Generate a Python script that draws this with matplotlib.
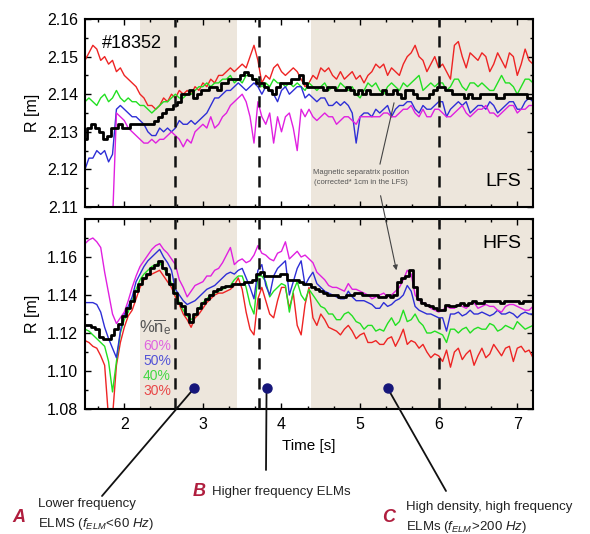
import numpy as np
import matplotlib
matplotlib.use("Agg")
import matplotlib.pyplot as plt
from matplotlib.ticker import MultipleLocator, FormatStrFormatter, AutoMinorLocator
from matplotlib.lines import Line2D
from matplotlib.patches import FancyArrowPatch

plt.rcParams['font.family'] = ['Liberation Sans', 'DejaVu Sans']
plt.rcParams['mathtext.fontset'] = 'custom'
plt.rcParams['mathtext.rm'] = 'Liberation Sans'
plt.rcParams['mathtext.it'] = 'Liberation Sans:italic'
plt.rcParams['mathtext.bf'] = 'Liberation Sans:bold'

# ---------------- data ----------------
time = np.round(np.arange(1.50, 7.2001, 0.05), 2)

# LFS (top panel), R [m]
lfs_30 = [2.149, 2.151, 2.153, 2.152, 2.149, 2.150, 2.148, 2.149, 2.146, 2.147,
          2.145, 2.144, 2.143, 2.142, 2.140, 2.139, 2.137, 2.137, 2.136, 2.137,
          2.139, 2.138, 2.140, 2.139, 2.141, 2.140, 2.141, 2.140, 2.142, 2.141,
          2.143, 2.142, 2.144, 2.143, 2.145, 2.145, 2.146, 2.147, 2.146, 2.147,
          2.148, 2.147, 2.150, 2.153, 2.149, 2.143, 2.145, 2.144, 2.147, 2.148,
          2.146, 2.145, 2.146, 2.147, 2.146, 2.144, 2.142, 2.143, 2.145, 2.144,
          2.147, 2.146, 2.147, 2.145, 2.144, 2.146, 2.144, 2.145, 2.146, 2.144,
          2.145, 2.143, 2.145, 2.146, 2.148, 2.147, 2.148, 2.145, 2.147, 2.146,
          2.145, 2.148, 2.150, 2.151, 2.153, 2.150, 2.149, 2.146, 2.148, 2.150,
          2.147, 2.148, 2.146, 2.144, 2.153, 2.154, 2.150, 2.147, 2.151, 2.150,
          2.149, 2.151, 2.150, 2.146, 2.148, 2.151, 2.149, 2.147, 2.151, 2.150,
          2.145, 2.148, 2.152, 2.149, 2.148]
lfs_40 = [2.138, 2.139, 2.138, 2.137, 2.139, 2.140, 2.138, 2.139, 2.141, 2.139,
          2.138, 2.139, 2.138, 2.138, 2.137, 2.137, 2.136, 2.135, 2.136, 2.137,
          2.138, 2.138, 2.139, 2.140, 2.139, 2.139, 2.140, 2.140, 2.141, 2.142,
          2.142, 2.143, 2.142, 2.143, 2.143, 2.144, 2.144, 2.145, 2.143, 2.144,
          2.143, 2.145, 2.145, 2.144, 2.144, 2.142, 2.143, 2.142, 2.144, 2.143,
          2.143, 2.142, 2.143, 2.142, 2.143, 2.142, 2.141, 2.143, 2.142, 2.141,
          2.142, 2.143, 2.141, 2.142, 2.141, 2.143, 2.142, 2.141, 2.142, 2.140,
          2.139, 2.141, 2.143, 2.142, 2.143, 2.141, 2.140, 2.142, 2.143, 2.142,
          2.141, 2.143, 2.142, 2.143, 2.144, 2.145, 2.141, 2.142, 2.143, 2.142,
          2.143, 2.143, 2.141, 2.142, 2.144, 2.144, 2.142, 2.141, 2.143, 2.143,
          2.142, 2.143, 2.142, 2.141, 2.141, 2.143, 2.145, 2.143, 2.143, 2.142,
          2.140, 2.142, 2.144, 2.144, 2.143]
lfs_50 = [2.120, 2.123, 2.123, 2.125, 2.124, 2.125, 2.122, 2.124, 2.136, 2.137,
          2.136, 2.135, 2.134, 2.134, 2.133, 2.132, 2.130, 2.129, 2.129, 2.131,
          2.130, 2.131, 2.130, 2.131, 2.133, 2.132, 2.132, 2.133, 2.132, 2.133,
          2.134, 2.135, 2.137, 2.139, 2.139, 2.140, 2.141, 2.141, 2.142, 2.143,
          2.142, 2.141, 2.142, 2.143, 2.142, 2.140, 2.142, 2.141, 2.140, 2.138,
          2.141, 2.142, 2.140, 2.141, 2.142, 2.142, 2.139, 2.140, 2.139, 2.138,
          2.139, 2.139, 2.137, 2.137, 2.138, 2.137, 2.138, 2.137, 2.135, 2.127,
          2.134, 2.135, 2.135, 2.134, 2.136, 2.135, 2.136, 2.137, 2.134, 2.136,
          2.137, 2.137, 2.138, 2.138, 2.136, 2.135, 2.137, 2.136, 2.136, 2.137,
          2.138, 2.138, 2.134, 2.136, 2.137, 2.138, 2.137, 2.138, 2.135, 2.136,
          2.137, 2.137, 2.136, 2.138, 2.137, 2.135, 2.136, 2.137, 2.138, 2.138,
          2.136, 2.136, 2.138, 2.139, 2.138]
lfs_60 = [2.100, 2.100, 2.100, 2.100, 2.100, 2.100, 2.100, 2.106, 2.135, 2.134,
          2.133, 2.131, 2.130, 2.129, 2.128, 2.127, 2.127, 2.128, 2.127, 2.128,
          2.128, 2.129, 2.130, 2.129, 2.128, 2.126, 2.128, 2.127, 2.130, 2.131,
          2.132, 2.131, 2.134, 2.131, 2.132, 2.134, 2.135, 2.137, 2.138, 2.139,
          2.140, 2.138, 2.134, 2.127, 2.138, 2.134, 2.132, 2.135, 2.127, 2.134,
          2.130, 2.134, 2.135, 2.131, 2.125, 2.136, 2.134, 2.136, 2.134, 2.133,
          2.134, 2.135, 2.134, 2.134, 2.132, 2.133, 2.134, 2.134, 2.133, 2.132,
          2.134, 2.134, 2.134, 2.134, 2.134, 2.134, 2.135, 2.135, 2.134, 2.134,
          2.135, 2.136, 2.136, 2.137, 2.135, 2.134, 2.136, 2.134, 2.134, 2.136,
          2.136, 2.135, 2.134, 2.134, 2.135, 2.136, 2.137, 2.135, 2.134, 2.135,
          2.136, 2.136, 2.137, 2.135, 2.135, 2.134, 2.135, 2.136, 2.137, 2.137,
          2.135, 2.136, 2.136, 2.137, 2.137]
lfs_sep = [2.128, 2.131, 2.132, 2.131, 2.130, 2.128, 2.129, 2.131, 2.131, 2.132,
           2.131, 2.131, 2.132, 2.132, 2.132, 2.132, 2.132, 2.132, 2.133, 2.134,
           2.135, 2.136, 2.136, 2.137, 2.138, 2.140, 2.140, 2.141, 2.139, 2.140,
           2.141, 2.141, 2.142, 2.142, 2.141, 2.143, 2.143, 2.144, 2.144, 2.144,
           2.145, 2.146, 2.145, 2.144, 2.143, 2.143, 2.142, 2.141, 2.140, 2.142,
           2.143, 2.143, 2.143, 2.144, 2.144, 2.145, 2.143, 2.142, 2.142, 2.142,
           2.142, 2.141, 2.142, 2.142, 2.141, 2.141, 2.141, 2.142, 2.141, 2.140,
           2.141, 2.140, 2.141, 2.140, 2.140, 2.140, 2.141, 2.140, 2.140, 2.141,
           2.140, 2.139, 2.141, 2.141, 2.140, 2.139, 2.139, 2.139, 2.140, 2.141,
           2.142, 2.142, 2.141, 2.141, 2.140, 2.140, 2.140, 2.139, 2.140, 2.139,
           2.139, 2.140, 2.140, 2.140, 2.140, 2.139, 2.139, 2.140, 2.140, 2.140,
           2.140, 2.140, 2.140, 2.139, 2.139]

# HFS (bottom panel), R [m]
hfs_30 = [1.116, 1.115, 1.113, 1.112, 1.108, 1.103, 1.075, 1.076, 1.103, 1.115,
          1.123, 1.129, 1.132, 1.138, 1.144, 1.148, 1.150, 1.151, 1.152, 1.153,
          1.150, 1.147, 1.144, 1.139, 1.135, 1.130, 1.127, 1.123, 1.128, 1.130,
          1.133, 1.136, 1.138, 1.140, 1.141, 1.141, 1.142, 1.143, 1.145, 1.149,
          1.143, 1.131, 1.122, 1.119, 1.138, 1.144, 1.137, 1.130, 1.128, 1.137,
          1.144, 1.144, 1.133, 1.141, 1.124, 1.119, 1.135, 1.144, 1.128, 1.124,
          1.130, 1.127, 1.123, 1.122, 1.121, 1.119, 1.122, 1.124, 1.121, 1.117,
          1.119, 1.120, 1.115, 1.115, 1.116, 1.114, 1.114, 1.117, 1.118, 1.113,
          1.117, 1.122, 1.114, 1.116, 1.115, 1.112, 1.114, 1.110, 1.107, 1.109,
          1.108, 1.105, 1.111, 1.102, 1.110, 1.112, 1.106, 1.109, 1.111, 1.103,
          1.108, 1.112, 1.107, 1.109, 1.114, 1.111, 1.108, 1.112, 1.113, 1.105,
          1.112, 1.113, 1.110, 1.111, 1.107]
hfs_40 = [1.122, 1.121, 1.119, 1.117, 1.115, 1.113, 1.105, 1.089, 1.105, 1.120,
          1.127, 1.131, 1.137, 1.143, 1.148, 1.151, 1.153, 1.155, 1.156, 1.157,
          1.154, 1.151, 1.146, 1.141, 1.136, 1.132, 1.129, 1.127, 1.129, 1.133,
          1.136, 1.138, 1.140, 1.141, 1.142, 1.143, 1.144, 1.145, 1.148, 1.150,
          1.150, 1.144, 1.135, 1.130, 1.150, 1.150, 1.147, 1.139, 1.142, 1.144,
          1.146, 1.145, 1.131, 1.142, 1.147, 1.140, 1.137, 1.143, 1.140, 1.137,
          1.134, 1.133, 1.130, 1.130, 1.127, 1.127, 1.130, 1.131, 1.129, 1.126,
          1.125, 1.122, 1.124, 1.124, 1.121, 1.122, 1.121, 1.125, 1.128, 1.124,
          1.126, 1.132, 1.126, 1.127, 1.130, 1.126, 1.124, 1.120, 1.120, 1.121,
          1.120, 1.119, 1.115, 1.122, 1.122, 1.120, 1.122, 1.123, 1.120, 1.122,
          1.123, 1.122, 1.122, 1.125, 1.124, 1.121, 1.122, 1.124, 1.123, 1.122,
          1.126, 1.124, 1.122, 1.123, 1.124]
hfs_50 = [1.136, 1.136, 1.136, 1.135, 1.131, 1.123, 1.117, 1.112, 1.107, 1.121,
          1.130, 1.134, 1.139, 1.147, 1.151, 1.155, 1.158, 1.160, 1.162, 1.164,
          1.160, 1.157, 1.153, 1.143, 1.140, 1.137, 1.135, 1.136, 1.137, 1.139,
          1.141, 1.143, 1.144, 1.145, 1.147, 1.149, 1.151, 1.152, 1.151, 1.153,
          1.154, 1.149, 1.144, 1.138, 1.153, 1.156, 1.145, 1.140, 1.150, 1.154,
          1.156, 1.158, 1.140, 1.147, 1.154, 1.158, 1.145, 1.149, 1.152, 1.146,
          1.144, 1.142, 1.141, 1.140, 1.139, 1.138, 1.138, 1.142, 1.139, 1.137,
          1.137, 1.137, 1.136, 1.135, 1.133, 1.133, 1.136, 1.134, 1.135, 1.137,
          1.138, 1.140, 1.145, 1.142, 1.134, 1.132, 1.131, 1.130, 1.130, 1.129,
          1.128, 1.128, 1.121, 1.130, 1.130, 1.131, 1.129, 1.130, 1.132, 1.130,
          1.130, 1.131, 1.130, 1.129, 1.130, 1.132, 1.130, 1.130, 1.131, 1.130,
          1.128, 1.130, 1.131, 1.130, 1.130]
hfs_60 = [1.167, 1.169, 1.170, 1.168, 1.165, 1.152, 1.141, 1.130, 1.125, 1.128,
          1.131, 1.137, 1.144, 1.150, 1.155, 1.158, 1.161, 1.164, 1.166, 1.167,
          1.164, 1.162, 1.159, 1.156, 1.148, 1.144, 1.139, 1.142, 1.145, 1.146,
          1.147, 1.150, 1.150, 1.153, 1.154, 1.157, 1.161, 1.165, 1.156, 1.158,
          1.159, 1.157, 1.158, 1.161, 1.166, 1.162, 1.161, 1.159, 1.158, 1.162,
          1.163, 1.168, 1.159, 1.161, 1.163, 1.160, 1.161, 1.159, 1.157, 1.152,
          1.150, 1.148, 1.145, 1.144, 1.144, 1.143, 1.142, 1.146, 1.143, 1.143,
          1.142, 1.141, 1.140, 1.138, 1.139, 1.140, 1.141, 1.139, 1.140, 1.142,
          1.144, 1.148, 1.153, 1.151, 1.140, 1.137, 1.136, 1.135, 1.133, 1.132,
          1.131, 1.132, 1.134, 1.133, 1.133, 1.135, 1.134, 1.133, 1.135, 1.136,
          1.133, 1.134, 1.135, 1.134, 1.134, 1.132, 1.131, 1.134, 1.135, 1.135,
          1.134, 1.133, 1.132, 1.132, 1.134]
hfs_sep = [1.124, 1.124, 1.123, 1.122, 1.118, 1.117, 1.117, 1.119, 1.122, 1.125,
           1.129, 1.133, 1.137, 1.142, 1.146, 1.149, 1.151, 1.154, 1.156, 1.158,
           1.154, 1.151, 1.146, 1.141, 1.136, 1.134, 1.130, 1.126, 1.130, 1.133,
           1.136, 1.138, 1.140, 1.142, 1.143, 1.144, 1.145, 1.145, 1.146, 1.146,
           1.146, 1.147, 1.147, 1.148, 1.151, 1.152, 1.150, 1.150, 1.150, 1.150,
           1.151, 1.151, 1.148, 1.148, 1.148, 1.147, 1.146, 1.146, 1.144, 1.143,
           1.142, 1.141, 1.140, 1.140, 1.140, 1.139, 1.139, 1.140, 1.140, 1.141,
           1.141, 1.140, 1.140, 1.140, 1.140, 1.139, 1.139, 1.140, 1.139, 1.140,
           1.147, 1.149, 1.150, 1.153, 1.144, 1.138, 1.136, 1.135, 1.134, 1.133,
           1.132, 1.132, 1.135, 1.134, 1.134, 1.135, 1.136, 1.135, 1.136, 1.137,
           1.136, 1.136, 1.137, 1.137, 1.137, 1.137, 1.136, 1.137, 1.137, 1.137,
           1.137, 1.136, 1.137, 1.137, 1.137]

density_labels = ['60%', '50%', '40%', '30%']
shaded_spans = [(2.20, 3.43), (4.37, 7.20)]
elm_transitions = [2.65, 3.72, 6.00]
elm_points_t = [2.89, 3.81, 5.35]
elm_points_r = [1.091, 1.091, 1.091]

# ---------------- style ----------------
W, H = 590, 534
def fx(x):
    return x / W
def fy(y):
    return 1 - y / H

C_RED = '#EE2424'
C_GRN = '#22E022'
C_BLU = '#2E2ED6'
C_MAG = '#E020E0'
C_SHADE = '#EDE6DC'
C_LETTER = '#B01E3E'

fig = plt.figure(figsize=(W / 100, H / 100), dpi=100)
ax1 = fig.add_axes([fx(85), fy(207), (533 - 85) / W, (207 - 19) / H])
ax2 = fig.add_axes([fx(85), fy(409), (533 - 85) / W, (409 - 219) / H])

for ax, series in ((ax1, (lfs_30, lfs_40, lfs_50, lfs_60, lfs_sep)),
                   (ax2, (hfs_30, hfs_40, hfs_50, hfs_60, hfs_sep))):
    for a, b in shaded_spans:
        ax.axvspan(a, b, color=C_SHADE, lw=0, zorder=0)
    r30, r40, r50, r60, rsep = series
    ax.plot(time, r30, color=C_RED, lw=1.0, zorder=2)
    ax.plot(time, r40, color=C_GRN, lw=1.0, zorder=2)
    ax.plot(time, r50, color=C_BLU, lw=1.0, zorder=2)
    ax.plot(time, r60, color=C_MAG, lw=1.0, zorder=2)
    ax.plot(time, rsep, color='black', lw=2.0, drawstyle='steps-mid', zorder=3)
    for t in elm_transitions:
        ax.axvline(t, color='#111111', lw=1.8, ls=(0, (4.5, 3.5)), zorder=4)
    ax.set_xlim(1.5, 7.2)
    ax.xaxis.set_major_locator(MultipleLocator(1))
    ax.xaxis.set_minor_locator(AutoMinorLocator(3))
    ax.tick_params(which='both', direction='in', top=True, right=True, width=1.0,
                   labelsize=11.5)
    ax.tick_params(which='major', length=4)
    ax.tick_params(which='minor', length=2.5)
    ax.tick_params(axis='y', pad=5)
    ax.tick_params(axis='x', pad=6)
    for s in ax.spines.values():
        s.set_linewidth(1.5)
    ax.set_ylabel('R [m]', fontsize=11.5, labelpad=5)

ax1.set_ylim(2.11, 2.16)
ax1.yaxis.set_major_locator(MultipleLocator(0.01))
ax1.yaxis.set_minor_locator(MultipleLocator(0.005))
ax1.yaxis.set_major_formatter(FormatStrFormatter('%.2f'))
ax1.tick_params(labelbottom=False)

ax2.set_ylim(1.08, 1.18)
ax2.set_yticks([1.08, 1.10, 1.12, 1.14, 1.16])
ax2.yaxis.set_minor_locator(MultipleLocator(0.01))
ax2.yaxis.set_major_formatter(FormatStrFormatter('%.2f'))
ax2.set_xlabel('Time [s]', fontsize=11, labelpad=5)

# panel texts
ax1.text((102 - 85) / 448, (207 - 44) / 188, '#18352', transform=ax1.transAxes,
         fontsize=13, ha='left', va='center', zorder=6)
ax1.text((521 - 85) / 448, (207 - 182) / 188, 'LFS', transform=ax1.transAxes,
         fontsize=14, ha='right', va='center', zorder=6)
ax2.text((521 - 85) / 448, (409 - 243) / 190, 'HFS', transform=ax2.transAxes,
         fontsize=14, ha='right', va='center', zorder=6)

ax1.text((361 - 85) / 448, (207 - 173) / 188, 'Magnetic separatrix position',
         transform=ax1.transAxes, fontsize=5.5, color='#555555', ha='center', va='center', zorder=6)
ax1.text((361 - 85) / 448, (207 - 183) / 188, '(corrected* 1cm in the LFS)',
         transform=ax1.transAxes, fontsize=5.5, color='#555555', ha='center', va='center', zorder=6)

# density legend
ax2.text((139 - 85) / 448, (409 - 327) / 190, r'%$\overline{\mathrm{n}}_\mathrm{e}$',
         transform=ax2.transAxes, fontsize=12, color='#555555', ha='left', va='center', zorder=6)
leg_colors = ['#E064E0', '#5454D6', '#44D844', '#E84848']
leg_y = [346, 361, 376, 391]
for lab, c, yy in zip(density_labels, leg_colors, leg_y):
    ax2.text((143 - 85) / 448, (409 - yy) / 190, lab, transform=ax2.transAxes,
             fontsize=10, color=c, ha='left', va='center', zorder=6)

# ELM regime dots and pointer lines
ax2.plot(elm_points_t, elm_points_r, 'o', color='#16167A', ms=6.5, zorder=7, clip_on=False)
line_ends = [(102, 496), (266, 470), (446, 491)]
for t, r, (ex, ey) in zip(elm_points_t, elm_points_r, line_ends):
    ax2.annotate('', xy=(t, r), xycoords='data', xytext=(ex, H - ey),
                 textcoords='figure pixels', annotation_clip=False,
                 arrowprops=dict(arrowstyle='-', color='#111111', lw=1.3,
                                 shrinkA=0, shrinkB=0), zorder=6)

# separatrix pointer lines
fig.add_artist(Line2D([fx(380), fx(394)], [fy(164), fy(103)], transform=fig.transFigure,
                      color='#444444', lw=0.8))
fig.add_artist(FancyArrowPatch((fx(380), fy(193)), (fx(397), fy(273)), transform=fig.transFigure,
                               arrowstyle='-|>', mutation_scale=7, lw=0.8, color='#444444'))

# regime annotations
fig.text(fx(19), fy(517), 'A', color=C_LETTER, fontsize=13, fontweight='bold',
         fontstyle='italic', ha='center', va='center')
fig.text(fx(38), fy(504), 'Lower frequency', fontsize=9.5, color='#222222', ha='left', va='center')
fig.text(fx(38), fy(524), r'ELMS ($f_{ELM}\!<\!\mathit{60\ Hz}$)', fontsize=9.5,
         color='#222222', ha='left', va='center')
fig.text(fx(199), fy(492), 'B', color=C_LETTER, fontsize=13, fontweight='bold',
         fontstyle='italic', ha='center', va='center')
fig.text(fx(212), fy(492), 'Higher frequency ELMs', fontsize=9.5, color='#222222',
         ha='left', va='center')
fig.text(fx(389), fy(518), 'C', color=C_LETTER, fontsize=13, fontweight='bold',
         fontstyle='italic', ha='center', va='center')
fig.text(fx(406), fy(507), 'High density, high frequency', fontsize=9.5, color='#222222',
         ha='left', va='center')
fig.text(fx(406), fy(527), r'ELMs ($f_{ELM}\!>\!\mathit{200\ Hz}$)', fontsize=9.5,
         color='#222222', ha='left', va='center')

fig.savefig('out.png', dpi=100)
